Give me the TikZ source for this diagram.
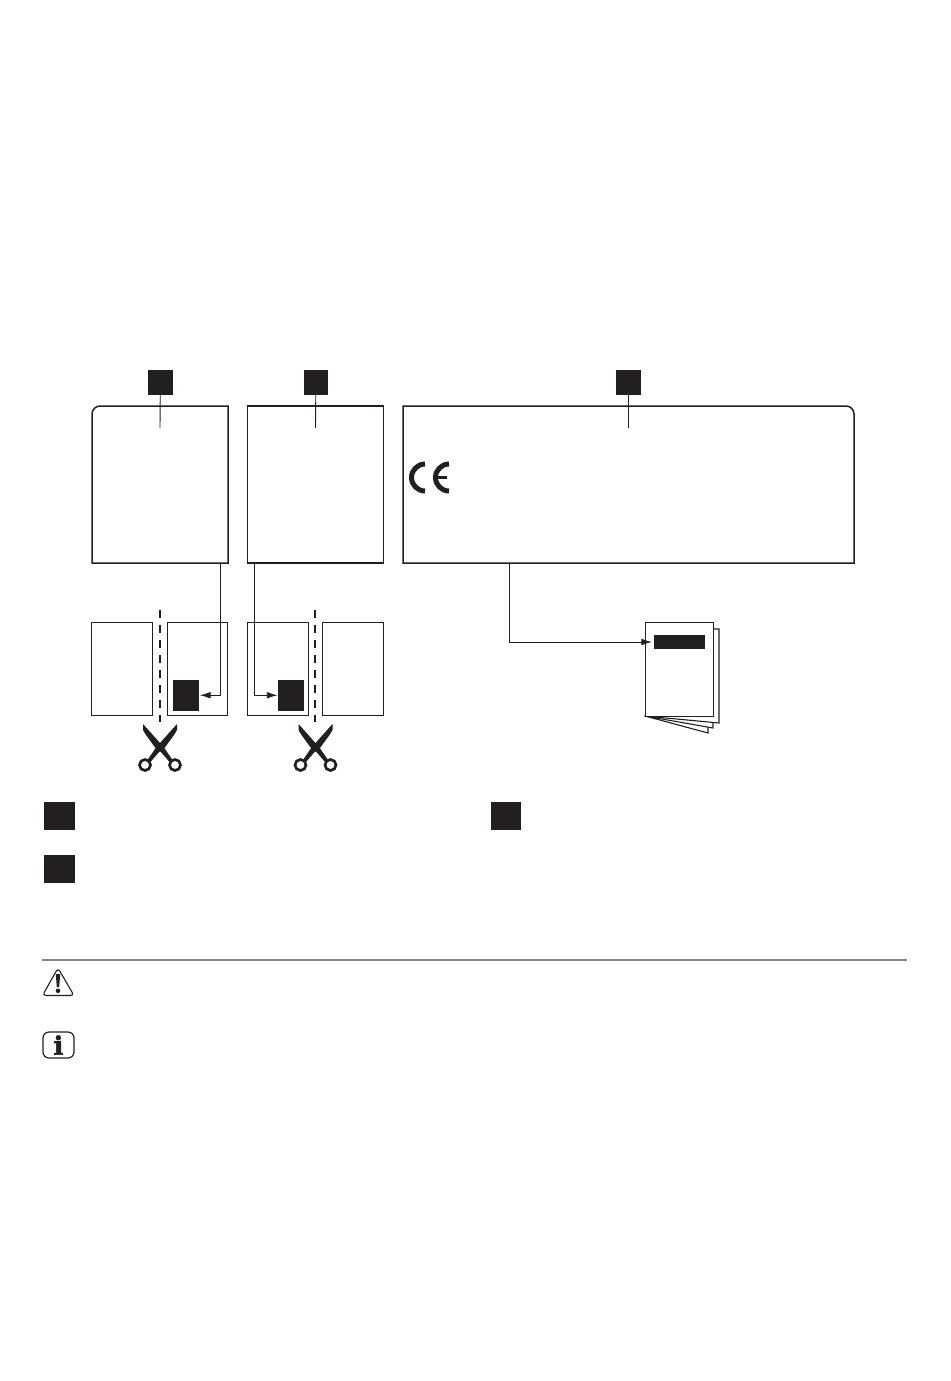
\documentclass[tikz,border=0pt]{standalone}
\usepackage{fontspec}
\newfontfamily\iconserif[BoldFeatures={FakeBold=2.5}]{DejaVu Serif}
\usetikzlibrary{arrows.meta}
\definecolor{ink}{HTML}{231F20}
\definecolor{rulegrey}{HTML}{858585}
\tikzset{
  x=0.75pt,y=-0.75pt,
  every node/.style={inner sep=0pt,outer sep=0pt},
  panel/.style={draw=ink,line width=1.5*0.75pt},
  sheet/.style={draw=ink,line width=1*0.75pt,fill=white},
  blk/.style={fill=ink},
  leader/.style={draw=ink,line width=0.9*0.75pt},
  conn/.style={draw=ink,line width=0.9*0.75pt,-{Latex[length=8pt,width=5pt]}},
  cut/.style={draw=ink,line width=2*0.75pt,dash pattern=on 6pt off 5.25pt},
  pagesheet/.style={draw=ink,line width=1.1*0.75pt,fill=white,line join=miter},
  pics/shears/.style={code={
    \fill[ink] (-17,-24) -- (-8,-14) -- (0,-5) -- (5,1) -- (12.5,12) -- (9.5,14) -- (1,4) -- (-4,0.7) -- (-14,-13) -- (-17,-18) -- cycle;
    \fill[ink] (17,-24) -- (8,-14) -- (0,-5) -- (-5,1) -- (-12.5,12) -- (-9.5,14) -- (-1,4) -- (4,0.7) -- (14,-13) -- (17,-18) -- cycle;
    \draw[ink,line width=2.7*0.75pt] (-15,17) circle (5.5);
    \draw[ink,line width=2.7*0.75pt] (15,17) circle (5.5);
  }}
}
\newcommand{\xbox}[6]{\node[#1,minimum width={(#4-#2)*0.75pt},minimum height={(#5-#3)*0.75pt}] (#6) at ({(#2+#4)/2},{(#3+#5)/2}) {};}
\begin{document}
\begin{tikzpicture}
\useasboundingbox[fill=white] (0,0) rectangle (950,1381);

% label squares
\xbox{blk}{148}{370}{172.5}{395}{sqA}
\xbox{blk}{303.5}{370}{328}{395}{sqB}
\xbox{blk}{616}{370}{641}{395}{sqC}

% panels
\xbox{}{92}{406}{228}{563}{panelA}
\xbox{}{247.5}{406}{383.5}{563}{panelB}
\xbox{}{403}{406}{854}{563}{panelC}
\draw[panel,line join=miter] (panelA.south west) -- ([yshift=-6pt]panelA.north west) arc[start angle=180,end angle=90,radius=6pt] -- (panelA.north east) -- (panelA.south east) -- cycle;
\draw[panel,line join=miter] (panelB.south west) -- (panelB.north west) -- (panelB.north east) -- (panelB.south east) -- cycle;
\draw[panel,line join=miter] (panelC.south west) -- (panelC.north west) -- ([xshift=-6pt]panelC.north east) arc[start angle=90,end angle=0,radius=6pt] -- (panelC.south east) -- cycle;

% leaders
\coordinate (endA) at (160,428);
\coordinate (endB) at (315.5,428);
\coordinate (endC) at (628.5,428);
\draw[leader] (sqA.south) -- (endA);
\draw[leader] (sqB.south) -- (endB);
\draw[leader] (sqC.south) -- (endC);

% CE mark
\draw[ink,line width=5*0.75pt] (425,464) arc[start angle=270,end angle=90,radius=13.5];
\draw[ink,line width=5*0.75pt] (449,464) arc[start angle=270,end angle=90,radius=13.5];
\draw[ink,line width=3.5*0.75pt] (437,477.5) -- (447,477.5);

% sheets
\xbox{sheet}{91.5}{622}{152.5}{715}{sheetA}
\xbox{sheet}{167}{622}{227.5}{715}{sheetB}
\xbox{sheet}{247.5}{622}{308.5}{715}{sheetC}
\xbox{sheet}{322.5}{622}{383.5}{715}{sheetD}
\xbox{blk}{172.5}{680}{198.5}{710.5}{tagA}
\xbox{blk}{277.5}{680}{303.5}{710.5}{tagB}

% cut lines
\coordinate (cutAt) at (160,610);
\coordinate (cutAb) at (160,722);
\coordinate (cutBt) at (315,610);
\coordinate (cutBb) at (315,722);
\draw[cut] (cutAt) -- (cutAb);
\draw[cut] (cutBt) -- (cutBb);

% scissors
\pic at (160,748) {shears};
\pic at (315.5,748) {shears};

% booklet
\draw[pagesheet] (645,716) -- (708,733) -- (708,725) -- cycle;
\draw[pagesheet] (645,716) -- (713,728) -- (713,720) -- cycle;
\draw[pagesheet] (700,629) -- (719,629) -- (719,723) -- (645,716) -- cycle;
\xbox{sheet}{645}{622}{713}{716}{front}
\xbox{blk}{654}{635}{705}{649}{bar}

% connectors
\coordinate (outA) at (220,563);
\coordinate (outB) at (254.5,563);
\coordinate (outC) at (509.5,563);
\draw[conn,shorten >=1pt] (outA) |- (tagA.east);
\draw[conn] (outB) |- (tagB.west);
\draw[conn,shorten >=1.5pt] (outC) |- (bar.west);

% legend squares
\xbox{blk}{44}{802}{75}{830}{legA}
\xbox{blk}{491}{802}{521}{830}{legB}
\xbox{blk}{44}{855}{75}{883}{legC}

% rule
\coordinate (ruleL) at (42,960);
\coordinate (ruleR) at (907,960);
\draw[rulegrey,line width=1.5*0.75pt] (ruleL) -- (ruleR);

% warning icon
\draw[ink,line width=1.1*0.75pt,rounded corners=2.5pt,line join=round] (58,968) -- (74,995.5) -- (42.5,995.5) -- cycle;
\fill[ink] (55.8,974) -- (60.2,974) -- (59.2,987) -- (56.8,987) -- cycle;
\fill[ink] (58,990.8) circle (2.3);

% info icon
\xbox{}{43}{1032}{74}{1058}{infoBox}
\draw[ink,line width=1.2*0.75pt,rounded corners=4.5pt] (infoBox.south west) rectangle (infoBox.north east);
\node[font=\iconserif\bfseries\fontsize{19pt}{19pt}\selectfont,text=ink] (infoI) at (infoBox.center) {i};

\end{tikzpicture}
\end{document}
